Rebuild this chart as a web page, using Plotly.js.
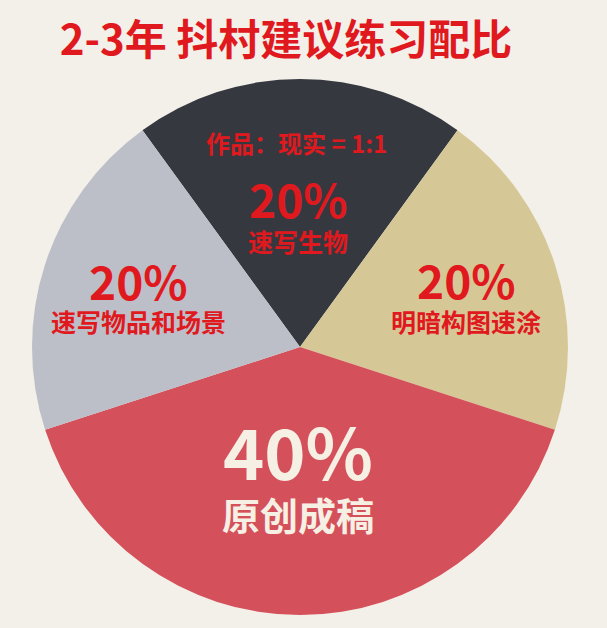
<!DOCTYPE html>
<html>
<head>
<meta charset="utf-8">
<script src="https://cdn.plot.ly/plotly-3.0.1.min.js"></script>
<style>
  html, body { margin: 0; padding: 0; background: #f3efe9; }
  #chart { width: 607px; height: 628px; }
</style>
</head>
<body>
<div id="chart"></div>
<script>
// ── Data ─────────────────────────────────────────────────────────────────────
const CATEGORIES = ['速写生物', '明暗构图速涂', '原创成稿', '速写物品和场景'];
const SHARES     = [20, 20, 40, 20];
const COLORS     = ['#363840', '#d6c896', '#d4505a', '#bdbfc8'];
const TITLE      = '2-3年 抖村建议练习配比';
const NOTE       = '作品：现实 = 1:1';

// ── Layout helpers ───────────────────────────────────────────────────────────
const W = 607, H = 628;
const CX = 300, CY = 347, R = 268;   // pie centre / radius in px
const RED   = '#e0191e';
const CREAM = '#f6efe4';
const FONT  = '"Noto Sans CJK SC", "Noto Sans", sans-serif';

const px = x => x / W;
const py = y => 1 - y / H;

// label anchor points (px) per slice: [x, pctY, pctSize, nameY, nameSize, colour]
const LABEL_POS = [
  [298, 198, 46, 241, 25, RED],
  [466, 279, 46, 321, 25, RED],
  [298, 450, 70, 513, 38, CREAM],
  [138, 280, 46, 321, 25, RED],
];

function _ann(text, x, y, size, color) {
  return {
    text, x: px(x), y: py(y), xref: 'paper', yref: 'paper',
    xanchor: 'center', yanchor: 'middle', showarrow: false,
    font: { family: FONT, size, color, weight: 700 },
  };
}

const annotations = [];
CATEGORIES.forEach((name, i) => {
  const [x, yp, sp, yn, sn, c] = LABEL_POS[i];
  annotations.push(_ann(SHARES[i] + '%', x, yp, sp, c));
  annotations.push(_ann(name, x, yn, sn, c));
});
annotations.push(_ann(NOTE, 296, 142, 24, RED));

const trace = {
  type: 'pie',
  labels: CATEGORIES,
  values: SHARES,
  sort: false,
  direction: 'clockwise',
  rotation: -36,
  marker: { colors: COLORS, line: { width: 0 } },
  textinfo: 'none',
  hoverinfo: 'none',
  domain: {
    x: [px(CX - R), px(CX + R)],
    y: [py(CY + R), py(CY - R)],
  },
};

const layout = {
  width: W, height: H,
  margin: { t: 0, r: 0, b: 0, l: 0, pad: 0 },
  paper_bgcolor: '#f3efe9',
  showlegend: false,
  title: {
    text: TITLE,
    x: px(286), y: py(40), xanchor: 'center', yanchor: 'middle',
    xref: 'paper', yref: 'paper',
    font: { family: FONT, size: 42, color: RED, weight: 700 },
  },
  annotations,
};

Plotly.newPlot('chart', [trace], layout, { displayModeBar: false, staticPlot: true });
</script>
</body>
</html>
